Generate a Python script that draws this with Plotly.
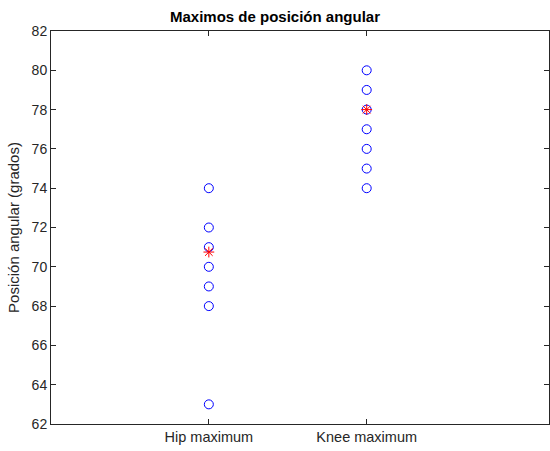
import plotly.graph_objects as go

# Category positions and labels
categories = ["Hip maximum", "Knee maximum"]
cat_pos = [1, 2]

# Individual maxima per joint (degrees)
hip_max = [74, 72, 71, 70, 69, 68, 63]
knee_max = [80, 79, 78, 77, 76, 75, 74]

# Mean value per joint (red asterisk)
mean_vals = [70.75, 78.0]

y_ticks = list(range(62, 84, 2))

fig = go.Figure()

circle_style = dict(symbol="circle-open", size=9, color="#0000ff",
                    line=dict(color="#0000ff", width=1))

fig.add_trace(go.Scatter(x=[cat_pos[0]] * len(hip_max), y=hip_max, mode="markers",
                         marker=circle_style, showlegend=False))
fig.add_trace(go.Scatter(x=[cat_pos[1]] * len(knee_max), y=knee_max, mode="markers",
                         marker=circle_style, showlegend=False))
fig.add_trace(go.Scatter(x=cat_pos, y=mean_vals, mode="markers",
                         marker=dict(symbol="asterisk-open", size=9, color="#ff0000",
                                     line=dict(color="#ff0000", width=1)),
                         showlegend=False))

axis_color = "#262626"
fig.update_layout(
    width=550, height=451,
    margin=dict(l=50.5, r=1, t=31, b=27),
    paper_bgcolor="white", plot_bgcolor="white",
    font=dict(family="Liberation Sans, Arial, sans-serif", color=axis_color, size=14),
    title=dict(text="<b>Maximos de posición angular</b>", x=0.5, xanchor="center",
               y=1 - 17 / 451, yanchor="middle",
               font=dict(size=15, color="#000000")),
    xaxis=dict(range=[0, 3.155], tickvals=cat_pos, ticktext=categories,
               showline=True, linecolor=axis_color, linewidth=1, mirror="ticks",
               ticks="inside", ticklen=5, tickcolor=axis_color,
               showgrid=False, zeroline=False, tickfont=dict(size=14.5)),
    yaxis=dict(range=[62, 82], tickvals=y_ticks,
               showline=True, linecolor=axis_color, linewidth=1, mirror="ticks",
               ticks="inside", ticklen=5, tickcolor=axis_color,
               showgrid=False, zeroline=False, tickfont=dict(size=14),
               title=dict(text="Posición angular (grados)", font=dict(size=15),
                          standoff=8)),
)

fig.write_html("out.html")
